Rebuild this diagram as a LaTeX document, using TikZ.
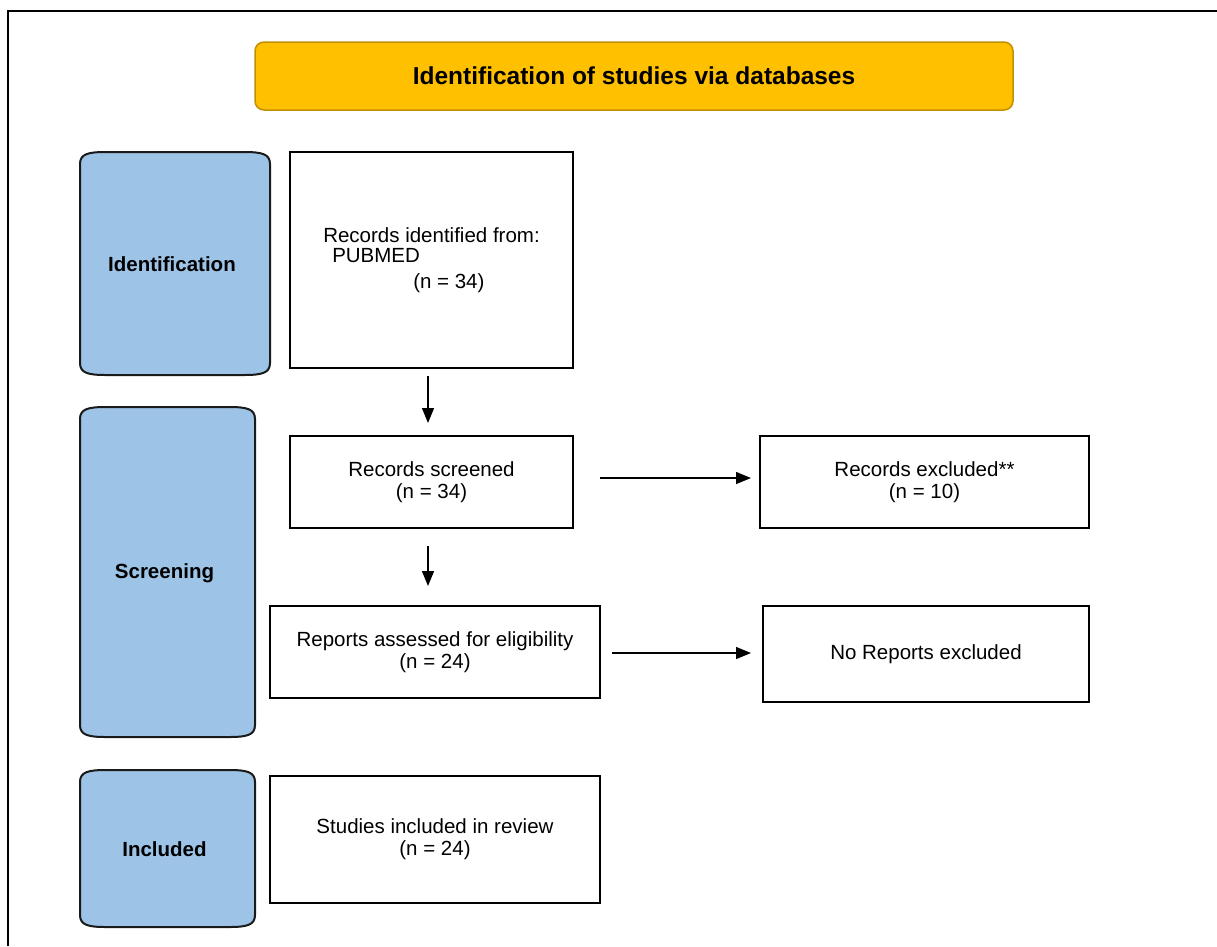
\documentclass[tikz,border=0pt]{standalone}
\usepackage{fontspec}
\setmainfont{Liberation Sans}
\usetikzlibrary{arrows.meta,calc}
\definecolor{titlefill}{HTML}{FFC000}
\definecolor{titledraw}{HTML}{C09000}
\definecolor{sidefill}{HTML}{9DC3E6}
\definecolor{sidedraw}{HTML}{1A1A1A}
\tikzset{
  box/.style={draw=black, line width=2pt, fill=white, align=center, inner sep=0pt,
    font=\fontsize{20.5}{22}\selectfont},
  sideshape/.style={draw=sidedraw, line width=2pt, fill=sidefill},
  sidelabel/.style={inner sep=0pt, font=\fontsize{20.5}{22}\selectfont\bfseries},
  titlebox/.style={draw=titledraw, line width=1.5pt, fill=titlefill, rounded corners=9pt,
    inner sep=0pt, font=\fontsize{24.5}{26}\selectfont\bfseries},
  arr/.style={line width=1.4pt, -{Triangle[length=15pt,width=12pt]}}
}
% name, L, T, R, B, label
\newcommand{\phasebox}[6]{%
  \filldraw[sideshape] (#2,#3+12) .. controls (#2,#3+2) and (#2+8,#3) .. (#2+26,#3)
    -- (#4-26,#3)
    .. controls (#4-8,#3) and (#4,#3+2) .. (#4,#3+12)
    -- (#4,#5-12)
    .. controls (#4,#5-2) and (#4-8,#5) .. (#4-26,#5)
    -- (#2+26,#5)
    .. controls (#2+8,#5) and (#2,#5-2) .. (#2,#5-12) -- cycle;
  \node[sidelabel] (#1) at ({(#2+#4)/2-3},{(#3+#5)/2+1}) {#6};%
}
\begin{document}
\begin{tikzpicture}[x=1pt,y=-1pt]
\useasboundingbox (0,0) rectangle (1217,946);
\fill[white] (0,0) rectangle (1217,946);
\draw[line width=2.5pt] (8,946) -- (8,11) -- (1217,11);

\node[titlebox, minimum width=758pt, minimum height=68pt] (title) at (634,76) {Identification of studies via databases};

\phasebox{idside}{80}{152}{270}{375}{Identification}
\phasebox{scrside}{80}{407}{255}{737}{Screening}
\phasebox{incside}{80}{770}{255}{927}{Included}

\node[box, align=left, minimum width=283pt, minimum height=216pt] (rid) at (431.5,260)
  {Records identified from:\\[-2pt]\hspace*{9pt}PUBMED\\[4pt]\hspace*{90pt}(n = 34)};
\node[box, minimum width=283pt, minimum height=92pt] (rs) at (431.5,482) {Records screened\\(n = 34)};
\node[box, minimum width=329pt, minimum height=92pt] (rex) at (924.5,482) {Records excluded**\\(n = 10)};
\node[box, minimum width=330pt, minimum height=92pt] (ra) at (435,652) {Reports assessed for eligibility\\(n = 24)};
\node[box, minimum width=326pt, minimum height=96pt] (nre) at (926,654) {No Reports excluded};
\node[box, minimum width=330pt, minimum height=127pt] (si) at (435,839.5) {Studies included in review\\(n = 24)};

\draw[arr] ($(rid.south)+(-3.5,7)$) -- ($(rs.north)+(-3.5,-12)$);
\draw[arr] ($(rs.east)+(26,-4)$) -- ($(rex.west)+(-8,-4)$);
\draw[arr] ($(rs.south)+(-3.5,17)$) -- ($(ra.north)+(-7,-19)$);
\draw[arr] ($(ra.east)+(11,1)$) -- ($(nre.west)+(-11,-1)$);
\end{tikzpicture}
\end{document}
